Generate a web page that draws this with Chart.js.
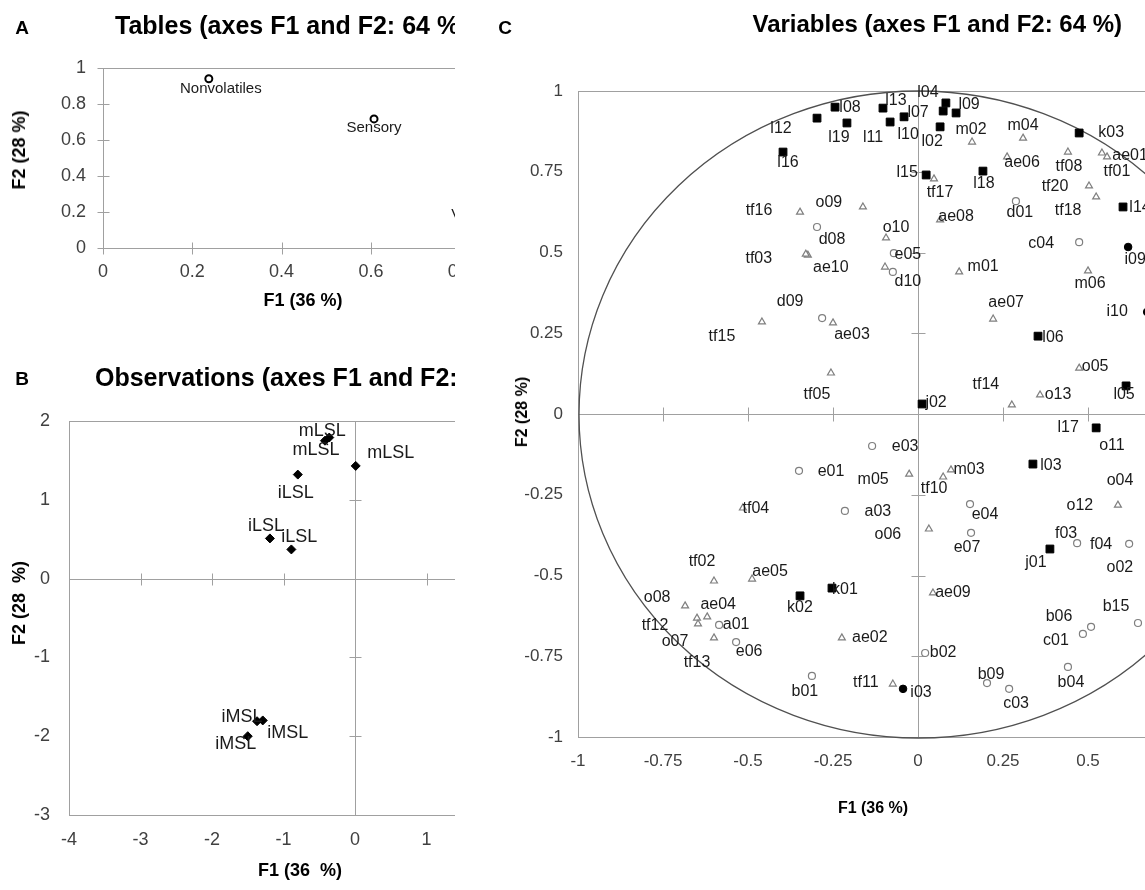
<!DOCTYPE html>
<html>
<head>
<meta charset="utf-8">
<script src="https://cdn.jsdelivr.net/npm/chart.js@4.4.1/dist/chart.umd.min.js"></script>
<style>
body { margin: 0; background: #fff; width: 1145px; height: 890px; overflow: hidden; position: relative; font-family: "Liberation Sans", Arial, sans-serif; }
.panel { position: absolute; overflow: hidden; }
.panel canvas { position: absolute; left: 0; top: 0; }
.t { position: absolute; white-space: nowrap; font-weight: bold; color: #000; line-height: 1; }
.c { transform: translate(-50%, -50%); }
.r { transform: translate(-50%, -50%) rotate(-90deg); }
.ttl { font-size: 24px; transform: translateY(-50%); }
.big { font-size: 25px; }
.letter { font-size: 19px; }
</style>
</head>
<body>

<div class="panel" id="pa" style="left:0;top:0;width:455px;height:330px">
  <canvas id="chartA" width="600" height="330"></canvas>
  <div class="t letter c" style="left:22px;top:27px">A</div>
  <div class="t ttl big" style="left:115px;top:25px">Tables (axes F1 and F2: 64 %)</div>
  <div class="t r" style="left:19px;top:150px;font-size:18px">F2 (28 %)</div>
  <div class="t c" style="left:303px;top:300px;font-size:18px">F1 (36 %)</div>
</div>

<div class="panel" id="pb" style="left:0;top:330px;width:455px;height:560px">
  <canvas id="chartB" width="560" height="560"></canvas>
  <div class="t letter c" style="left:22px;top:48px">B</div>
  <div class="t ttl big" style="left:95px;top:47px">Observations (axes F1 and F2: 64 %)</div>
  <div class="t r" style="left:19px;top:273px;font-size:18px">F2 (28&nbsp; %)</div>
  <div class="t c" style="left:300px;top:540px;font-size:18px">F1 (36&nbsp; %)</div>
</div>

<div class="panel" id="pc" style="left:495px;top:0;width:650px;height:890px">
  <canvas id="chartC" width="800" height="890"></canvas>
  <div class="t letter c" style="left:10px;top:27px">C</div>
  <div class="t ttl" style="right:23px;top:24px">Variables (axes F1 and F2: 64 %)</div>
  <div class="t r" style="left:27px;top:412px;font-size:16px">F2 (28 %)</div>
  <div class="t c" style="left:378px;top:808px;font-size:16px">F1 (36 %)</div>
</div>

<script>
// A: tables
const tableNames = ['Nonvolatiles', 'Sensory', 'Volatiles'];
const tableF1 = [0.237, 0.607, 0.82];
const tableF2 = [0.94, 0.717, 0.24];
const tableTicks = [0, 0.2, 0.4, 0.6, 0.8, 1];

// B: observations
const obsNames = ['mLSL', 'mLSL', 'mLSL', 'iLSL', 'iLSL', 'iLSL', 'iMSL', 'iMSL', 'iMSL'];
const obsF1 = [-0.42, -0.36, 0.01, -0.80, -1.19, -0.89, -1.37, -1.29, -1.50];
const obsF2 = [1.75, 1.79, 1.43, 1.32, 0.51, 0.37, -1.81, -1.80, -2.00];
const obsTicksX = [-4, -3, -2, -1, 0, 1, 2];
const obsTicksY = [-3, -2, -1, 0, 1, 2];

// C: variables, one array set per marker type
const sqNames = ['l08','l12','l19','l16','l13','l11','l07','l10','l04','l09','l02','k03','l15','l18','l14','l06','l05','j02','l17','l03','j01','k02','k01'];
const sqF1 = [-0.244,-0.297,-0.209,-0.397,-0.103,-0.082,-0.041,0.074,0.082,0.112,0.065,0.474,0.024,0.191,0.603,0.353,0.612,0.012,0.524,0.338,0.388,-0.347,-0.253];
const sqF2 = [0.950,0.916,0.901,0.811,0.947,0.904,0.920,0.938,0.963,0.932,0.889,0.870,0.740,0.752,0.641,0.241,0.087,0.031,-0.043,-0.155,-0.418,-0.563,-0.539];

const triNames = ['tf16','o09','ae10','tf03','tf15','ae03','tf05','tf04','m03','tf10','m05','o12','tf14','o13','o05','m02','m04','ae06','tf08','tf01','ae01','tf17','tf20','tf18','ae08','o10','','m01','m06','ae07','tf02','ae05','o08','ae04','tf12','o07','tf13','ae02','tf11','o06','ae09','o11','o04','o02'];
const triF1 = [-0.347,-0.162,-0.324,-0.330,-0.459,-0.250,-0.256,-0.515,0.097,0.074,-0.026,0.588,0.276,0.359,0.474,0.159,0.309,0.262,0.441,0.541,0.556,0.047,0.503,0.524,0.065,-0.094,-0.097,0.121,0.500,0.221,-0.600,-0.488,-0.685,-0.620,-0.650,-0.647,-0.600,-0.224,-0.074,0.032,0.044,0.688,0.697,0.682];
const triF2 = [0.625,0.641,0.492,0.495,0.285,0.282,0.127,-0.291,-0.173,-0.195,-0.186,-0.282,0.028,0.059,0.142,0.842,0.854,0.796,0.811,0.808,0.796,0.728,0.706,0.672,0.601,0.545,0.455,0.440,0.443,0.294,-0.517,-0.511,-0.594,-0.628,-0.632,-0.650,-0.693,-0.693,-0.836,-0.356,-0.554,-0.099,-0.207,-0.474];

const circNames = ['d08','d09','e05','d10','d01','c04','e03','e01','a03','e04','e07','f03','f04','a01','e06','b01','b02','b09','c03','b04','c01','b06','b15'];
const circF1 = [-0.297,-0.282,-0.071,-0.074,0.288,0.474,-0.135,-0.350,-0.215,0.153,0.156,0.468,0.621,-0.585,-0.535,-0.312,0.021,0.203,0.268,0.441,0.485,0.509,0.647];
const circF2 = [0.579,0.297,0.498,0.440,0.659,0.532,-0.099,-0.176,-0.300,-0.279,-0.368,-0.400,-0.402,-0.653,-0.706,-0.811,-0.740,-0.833,-0.851,-0.783,-0.681,-0.659,-0.647];

const dotNames = ['i09', 'i03', 'i10'];
const dotF1 = [0.618, -0.044, 0.674];
const dotF2 = [0.517, -0.851, 0.316];

const varTicks = [-1, -0.75, -0.5, -0.25, 0, 0.25, 0.5, 0.75, 1];

// label placement (pixel offsets from each marker)
const tableOff = [[12,10],[0,9],[10,10]];
const obsOff = [[-9,9],[-7,-7],[35,-13],[-2,18],[-4,-12],[8,-12],[-15,-4],[25,13],[-12,8]];
const sqOff = [[15,0],[-36,10],[-8,15],[5,11],[13,-8],[-17,16],[14,-4],[-35,24],[-18,-10],[13,-8],[-8,15],[32,0],[-19,-2],[1,12],[17,1],[15,1],[-2,9],[14,-1],[-28,0],[18,2],[-14,14],[0,12],[13,1]];
const triOff = [[-41,-2],[-34,-4],[23,13],[-47,4],[-40,15],[19,12],[-14,22],[13,1],[18,0],[-9,12],[-36,6],[-38,1],[-26,-20],[18,0],[16,-2],[-1,-12],[0,-13],[15,6],[1,15],[15,19],[23,-1],[6,14],[-34,1],[-28,14],[16,-3],[10,-10],[0,0],[24,-5],[2,13],[13,-16],[-12,-19],[18,-7],[-28,-8],[11,-12],[-42,7],[-23,18],[-17,25],[28,0],[-27,-1],[-41,6],[20,0],[-40,0],[-35,0],[-30,0]];
const circOff = [[15,13],[-32,-16],[14,1],[15,10],[4,11],[-38,1],[33,1],[32,1],[33,1],[15,10],[-4,15],[-11,-10],[-28,1],[17,0],[13,10],[-7,16],[18,0],[4,-8],[7,15],[3,16],[-27,7],[-32,-10],[-22,-16]];
const dotOff = [[7,13],[18,4],[-30,0]];

function pts(xs, ys) {
  return xs.map((x, i) => ({x: x, y: ys[i]}));
}

// plot frame, axes through zero with crossing ticks, correlation circle, point labels
const frame = {
  id: 'frame',
  beforeDatasetsDraw(chart, args, o) {
    const ctx = chart.ctx;
    const a = chart.chartArea;
    const x = chart.scales.x, y = chart.scales.y;
    ctx.save();
    ctx.strokeStyle = '#a0a0a0';
    ctx.lineWidth = 1;
    ctx.strokeRect(a.left + 0.5, a.top + 0.5, a.right - a.left, a.bottom - a.top);
    const x0 = Math.round(x.getPixelForValue(0)) + 0.5;
    const y0 = Math.round(y.getPixelForValue(0)) + 0.5;
    ctx.beginPath();
    ctx.moveTo(a.left, y0); ctx.lineTo(a.right, y0);
    ctx.moveTo(x0, a.top); ctx.lineTo(x0, a.bottom);
    x.ticks.forEach(t => {
      const p = Math.round(x.getPixelForValue(t.value)) + 0.5;
      ctx.moveTo(p, y0 - o.tick); ctx.lineTo(p, y0 + o.tick);
    });
    y.ticks.forEach(t => {
      const p = Math.round(y.getPixelForValue(t.value)) + 0.5;
      ctx.moveTo(x0 - o.tick, p); ctx.lineTo(x0 + o.tick, p);
    });
    ctx.stroke();
    if (o.circle) {
      ctx.strokeStyle = '#505050';
      ctx.lineWidth = 1.3;
      ctx.beginPath();
      ctx.ellipse(x0, y0, x.getPixelForValue(1) - x0, y0 - y.getPixelForValue(1), 0, 0, Math.PI * 2);
      ctx.stroke();
    }
    ctx.restore();
  },
  afterDatasetsDraw(chart, args, o) {
    const ctx = chart.ctx;
    ctx.save();
    ctx.font = o.labelFont;
    ctx.fillStyle = '#1a1a1a';
    ctx.textAlign = 'center';
    ctx.textBaseline = 'middle';
    chart.data.datasets.forEach((ds, di) => {
      chart.getDatasetMeta(di).data.forEach((pt, i) => {
        if (!ds.names[i]) return;
        ctx.fillText(ds.names[i], pt.x + ds.offsets[i][0], pt.y + ds.offsets[i][1]);
      });
    });
    ctx.restore();
  }
};

function axis(ticks, pad, fontSize, size, horizontal) {
  return {
    type: 'linear',
    min: ticks[0],
    max: ticks[ticks.length - 1],
    grid: {display: false, drawTicks: false},
    border: {display: false},
    ticks: {
      autoSkip: false, maxRotation: 0, padding: pad, color: '#404040',
      font: {family: 'Liberation Sans', size: fontSize},
      callback: v => String(v)
    },
    afterBuildTicks: s => { s.ticks = ticks.map(v => ({value: v})); },
    afterFit: s => { if (horizontal) s.height = size; else s.width = size; }
  };
}

function makeChart(id, cfg) {
  const cv = document.getElementById(id);
  const W = cv.width, H = cv.height, a = cfg.area;
  return new Chart(cv, {
    type: 'scatter',
    data: {datasets: cfg.datasets},
    options: {
      responsive: false,
      animation: false,
      devicePixelRatio: 1,
      events: [],
      layout: {padding: {left: 0, top: a.top, right: W - a.right, bottom: 0}},
      plugins: {legend: {display: false}, tooltip: {enabled: false}, frame: cfg.frame},
      scales: {
        x: axis(cfg.xTicks, cfg.padX, cfg.tickSize, H - a.bottom, true),
        y: axis(cfg.yTicks, cfg.padY, cfg.tickSize, a.left, false)
      }
    },
    plugins: [frame]
  });
}

makeChart('chartA', {
  area: {left: 103, top: 68, right: 549.5, bottom: 248},
  xTicks: tableTicks, yTicks: tableTicks, padX: 13, padY: 17, tickSize: 18,
  frame: {tick: 6, circle: false, labelFont: '15px "Liberation Sans"'},
  datasets: [{
    data: pts(tableF1, tableF2), names: tableNames, offsets: tableOff,
    pointStyle: 'circle', pointRadius: 3.5, pointBackgroundColor: '#fff',
    pointBorderColor: '#000', pointBorderWidth: 2
  }]
});

makeChart('chartB', {
  area: {left: 69, top: 91, right: 498, bottom: 485},
  xTicks: obsTicksX, yTicks: obsTicksY, padX: 14, padY: 19, tickSize: 18,
  frame: {tick: 6, circle: false, labelFont: '18px "Liberation Sans"'},
  datasets: [{
    data: pts(obsF1, obsF2), names: obsNames, offsets: obsOff,
    pointStyle: 'rectRot', pointRadius: 4.5, pointBackgroundColor: '#000',
    pointBorderColor: '#000', pointBorderWidth: 1
  }]
});

makeChart('chartC', {
  area: {left: 83, top: 91, right: 763, bottom: 737},
  xTicks: varTicks, yTicks: varTicks, padX: 14, padY: 15, tickSize: 17,
  frame: {tick: 7, circle: true, labelFont: '16px "Liberation Sans"'},
  datasets: [
    {data: pts(triF1, triF2), names: triNames, offsets: triOff,
     pointStyle: 'triangle', pointRadius: 4, pointBackgroundColor: '#fff',
     pointBorderColor: '#7f7f7f', pointBorderWidth: 1.2},
    {data: pts(circF1, circF2), names: circNames, offsets: circOff,
     pointStyle: 'circle', pointRadius: 3.5, pointBackgroundColor: '#fff',
     pointBorderColor: '#7f7f7f', pointBorderWidth: 1.2},
    {data: pts(sqF1, sqF2), names: sqNames, offsets: sqOff,
     pointStyle: 'rect', pointRadius: 5.5, pointBackgroundColor: '#000',
     pointBorderColor: '#000', pointBorderWidth: 1},
    {data: pts(dotF1, dotF2), names: dotNames, offsets: dotOff,
     pointStyle: 'circle', pointRadius: 3.8, pointBackgroundColor: '#000',
     pointBorderColor: '#000', pointBorderWidth: 1}
  ]
});
</script>
</body>
</html>
